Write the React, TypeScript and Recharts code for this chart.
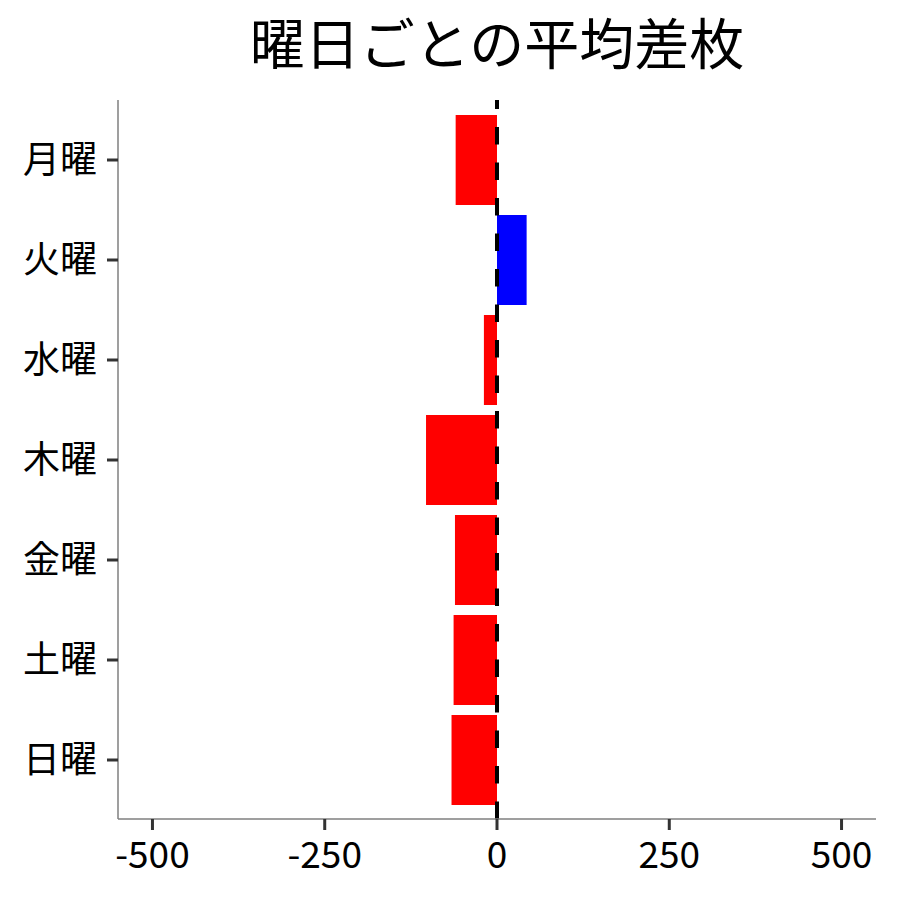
import React from 'react';
import { BarChart, Bar, XAxis, YAxis, ReferenceLine, Cell } from 'recharts';

const days = ['月曜', '火曜', '水曜', '木曜', '金曜', '土曜', '日曜'];
const avgDiff = [-60, 43, -19, -103, -61, -63, -66];
const xTicks = [-500, -250, 0, 250, 500];
const title = '曜日ごとの平均差枚';

const FONT = '"Noto Sans CJK JP", "Noto Sans", sans-serif';

const data = days.map((day, i) => ({ day, value: avgDiff[i] }));

export default function App() {
    return (
        <div style={{ position: 'absolute', left: 0, top: 0, width: 900, height: 900, background: '#fff' }}>
            <svg width={900} height={100} style={{ position: 'absolute', left: 0, top: 0 }}>
                <text x={497} y={64} textAnchor="middle" fontSize={55} fontFamily={FONT} fill="#000">
                    {title}
                </text>
            </svg>
            <div style={{ position: 'absolute', left: 0, top: 0 }}>
                <BarChart
                    width={900}
                    height={900}
                    data={data}
                    layout="vertical"
                    margin={{ top: 100, right: 24, bottom: 0, left: 0 }}
                >
                    <XAxis
                        type="number"
                        domain={[-550, 550]}
                        ticks={xTicks}
                        allowDataOverflow
                        stroke="#7f7f7f"
                        strokeWidth={1.5}
                        tickSize={11}
                        tickMargin={12}
                        tickLine={{ stroke: '#333', strokeWidth: 3 }}
                        tick={{ fill: '#000', fontSize: 37, fontFamily: FONT }}
                        height={81}
                    />
                    <YAxis
                        type="category"
                        dataKey="day"
                        width={118}
                        padding={{ top: 10, bottom: 9 }}
                        stroke="#7f7f7f"
                        strokeWidth={1.5}
                        tickSize={11}
                        tickMargin={10}
                        tickLine={{ stroke: '#333', strokeWidth: 3 }}
                        tick={{ fill: '#000', fontSize: 37, fontFamily: FONT }}
                    />
                    <Bar dataKey="value" barSize={90} isAnimationActive={false}>
                        {data.map((d) => (
                            <Cell key={d.day} fill={d.value >= 0 ? '#0000ff' : '#ff0000'} />
                        ))}
                    </Bar>
                    <ReferenceLine x={0} stroke="#000" strokeWidth={4} strokeDasharray="17.5 18" />
                </BarChart>
            </div>
        </div>
    );
}
